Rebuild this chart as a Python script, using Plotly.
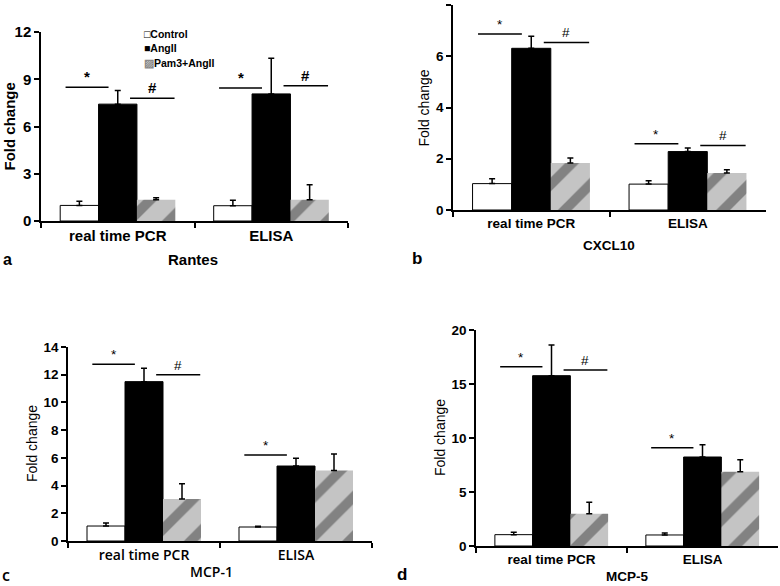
import plotly.graph_objects as go

categories = ["real time PCR", "ELISA"]
groups = ["Control", "AngII", "Pam3+AngII"]
legend_marks = ["\u25a1", "\u25a0", "\u25a8"]

# Rantes
rantes_control = [0.99, 0.97]
rantes_control_err = [0.26, 0.34]
rantes_angii = [7.42, 8.07]
rantes_angii_err = [0.86, 2.26]
rantes_pam3 = [1.35, 1.35]
rantes_pam3_err = [0.13, 0.95]
rantes_sig = [("*", 0, 8.5), ("#", 0, 7.8), ("*", 1, 8.45), ("#", 1, 8.58)]

# CXCL10
cxcl10_control = [1.03, 1.01]
cxcl10_control_err = [0.19, 0.13]
cxcl10_angii = [6.31, 2.28]
cxcl10_angii_err = [0.47, 0.14]
cxcl10_pam3 = [1.83, 1.44]
cxcl10_pam3_err = [0.2, 0.13]
cxcl10_sig = [("*", 0, 6.87), ("#", 0, 6.54), ("*", 1, 2.59), ("#", 1, 2.52)]

# MCP-1
mcp1_control = [1.08, 1.01]
mcp1_control_err = [0.22, 0.05]
mcp1_angii = [11.5, 5.41]
mcp1_angii_err = [0.96, 0.56]
mcp1_pam3 = [3.03, 5.08]
mcp1_pam3_err = [1.11, 1.2]
mcp1_sig = [("*", 0, 12.75), ("#", 0, 12.0), ("*", 1, 6.2)]

# MCP-5
mcp5_control = [1.05, 1.02]
mcp5_control_err = [0.22, 0.18]
mcp5_angii = [15.77, 8.24]
mcp5_angii_err = [2.83, 1.14]
mcp5_pam3 = [2.99, 6.88]
mcp5_pam3_err = [1.05, 1.11]
mcp5_sig = [("*", 0, 16.6), ("#", 0, 16.3), ("*", 1, 9.1)]

FONT = "Liberation Sans, Arial, sans-serif"
FONT_C = "Open Sans, sans-serif"
W, H = 780, 586

panels = [
    dict(name="Rantes", letter="a",
         vals=[(rantes_control, rantes_control_err), (rantes_angii, rantes_angii_err),
               (rantes_pam3, rantes_pam3_err)],
         sig=rantes_sig, box=(41, 348, 221, 32), ymax=12, dtick=3, fs=15, title_bold=True,
         cat_font=dict(family=FONT, size=15, weight="bold"), sig_bold=True,
         ytitle_x=9, name_xy=(193, 260), letter_xy=(1, 260),
         letter_font=dict(family=FONT, size=16, weight="bold")),
    dict(name="CXCL10", letter="b",
         vals=[(cxcl10_control, cxcl10_control_err), (cxcl10_angii, cxcl10_angii_err),
               (cxcl10_pam3, cxcl10_pam3_err)],
         sig=cxcl10_sig, box=(453, 766, 210, 5), ymax=8, dtick=2, fs=13.5, title_bold=False,
         cat_font=dict(family=FONT, size=13.5, weight="bold"), sig_bold=False,
         ytitle_x=423, name_xy=(609, 245), letter_xy=(410, 258),
         letter_font=dict(family=FONT, size=17, weight="bold")),
    dict(name="MCP-1", letter="c",
         vals=[(mcp1_control, mcp1_control_err), (mcp1_angii, mcp1_angii_err),
               (mcp1_pam3, mcp1_pam3_err)],
         sig=mcp1_sig, box=(68, 372, 541, 347), ymax=14, dtick=2, fs=13.5, title_bold=False,
         cat_font=dict(family=FONT_C, size=14, weight=600), sig_bold=False,
         ytitle_x=32, name_xy=(212, 571), letter_xy=(0, 575),
         letter_font=dict(family=FONT_C, size=16, weight=600)),
    dict(name="MCP-5", letter="d",
         vals=[(mcp5_control, mcp5_control_err), (mcp5_angii, mcp5_angii_err),
               (mcp5_pam3, mcp5_pam3_err)],
         sig=mcp5_sig, box=(476, 778, 546, 330), ymax=20, dtick=5, fs=13.5, title_bold=False,
         cat_font=dict(family=FONT, size=13.5, weight="bold"), sig_bold=False,
         ytitle_x=440, name_xy=(627, 576), letter_xy=(395, 574),
         letter_font=dict(family=FONT, size=17, weight="bold")),
]

bar_styles = [
    dict(color="white", line=dict(color="black", width=1)),
    dict(color="black", line=dict(color="black", width=1)),
    dict(color="#c4c4c4", line=dict(color="#c4c4c4", width=0),
         pattern=dict(shape="/", bgcolor="#c4c4c4", fgcolor="#404040", size=28, solidity=0.35)),
]

fig = go.Figure()
shapes = []
annotations = []

for i, p in enumerate(panels):
    sfx = "" if i == 0 else str(i + 1)
    xa, ya = "x" + sfx, "y" + sfx
    left, right, y0, ytop = p["box"]
    for k, (vals, errs) in enumerate(p["vals"]):
        fig.add_trace(go.Bar(
            x=categories, y=vals, name=groups[k], xaxis=xa, yaxis=ya,
            marker=bar_styles[k], showlegend=False, offsetgroup=str(k),
            error_y=dict(type="data", array=errs, arrayminus=[0] * len(errs), symmetric=False,
                         color="black", thickness=1.5, width=3),
        ))

    fig.layout["xaxis" + sfx] = dict(
        domain=[left / W, right / W], anchor=ya, range=[-0.5, 1.5], automargin=False,
        showline=True, linecolor="black", linewidth=1.5, ticks="outside", tickson="boundaries",
        ticklen=5, tickcolor="black", tickwidth=1.5, showgrid=False,
        tickfont=dict(color="black", **p["cat_font"]),
    )
    fig.layout["yaxis" + sfx] = dict(
        domain=[(H - y0) / H, (H - ytop) / H], anchor=xa, range=[0, p["ymax"]],
        automargin=False, dtick=p["dtick"], showline=True, linecolor="black", linewidth=1.5,
        ticks="outside", ticklen=5, tickcolor="black", tickwidth=1.5, showgrid=False,
        zeroline=False, tickfont=dict(family=FONT, size=p["fs"], color="black", weight="bold"),
    )

    annotations.append(dict(
        text="Fold change", xref="paper", yref="paper", x=p["ytitle_x"] / W,
        y=(H - (y0 + ytop) / 2) / H, textangle=-90, showarrow=False,
        xanchor="center", yanchor="middle",
        font=dict(family=FONT, size=p["fs"] if p["title_bold"] else p["fs"] + 0.5, color="black",
                  weight="bold" if p["title_bold"] else "normal"),
    ))
    nx, ny = p["name_xy"]
    annotations.append(dict(text=p["name"], xref="paper", yref="paper", x=nx / W, y=1 - ny / H,
                            xanchor="center", yanchor="middle", showarrow=False,
                            font=dict(color="black", **p["cat_font"])))
    lx, ly = p["letter_xy"]
    annotations.append(dict(text=p["letter"], xref="paper", yref="paper", x=lx / W, y=1 - ly / H,
                            xanchor="left", yanchor="middle", showarrow=False,
                            font=dict(color="black", **p["letter_font"])))

    for sym, cat, level in p["sig"]:
        if sym == "*":
            x0, x1 = cat - 0.34, cat - 0.06
        else:
            x0, x1 = cat + 0.08, cat + 0.37
        shapes.append(dict(type="line", xref=xa, yref=ya, x0=x0, x1=x1, y0=level, y1=level,
                           line=dict(color="black", width=1.5)))
        annotations.append(dict(text=sym, xref=xa, yref=ya, x=(x0 + x1) / 2, y=level,
                                xanchor="center", yanchor="bottom", showarrow=False,
                                font=dict(family=FONT, size=p["fs"], color="black",
                                          weight="bold" if p["sig_bold"] else "normal")))

# legend of panel a
for k, g in enumerate(groups):
    mark_color = "#888" if k == 2 else "black"
    annotations.append(dict(
        text="<span style='color:%s'>%s</span>%s" % (mark_color, legend_marks[k], g),
        xref="paper", yref="paper", x=142 / W, y=1 - (34 + 14.5 * k) / H,
        xanchor="left", yanchor="middle", showarrow=False,
        font=dict(family=FONT, size=10.5, color="black", weight="bold"),
    ))

fig.update_layout(
    width=W, height=H, margin=dict(l=0, r=0, t=0, b=0),
    paper_bgcolor="white", plot_bgcolor="white",
    barmode="group", bargap=0.25, bargroupgap=0,
    shapes=shapes, annotations=annotations, showlegend=False,
    font=dict(family=FONT, color="black"),
)

fig.write_html(
    "out.html",
    config={"displayModeBar": False},
    post_script="document.documentElement.style.margin='0';"
                "document.body.style.margin='0';"
                "document.body.style.overflow='hidden';"
                "var d=document.getElementById('{plot_id}');"
                "d.style.position='fixed';d.style.top='0px';d.style.left='0px';",
)
